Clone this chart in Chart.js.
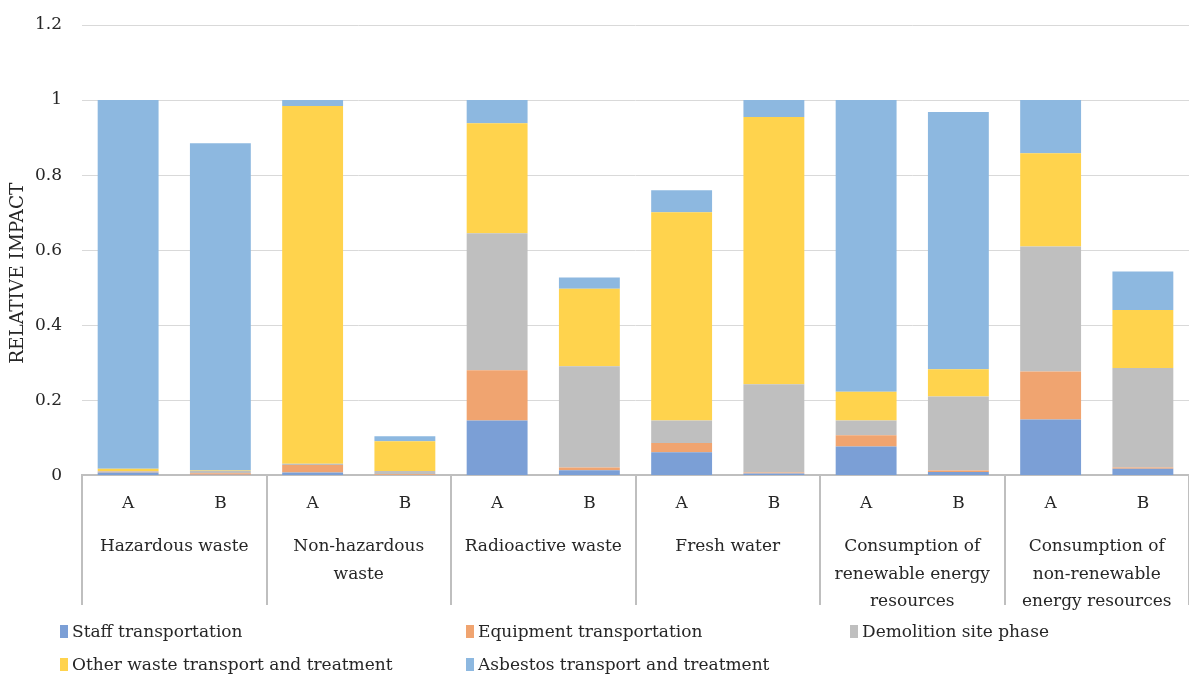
<!DOCTYPE html>
<html>
<head>
<meta charset="utf-8">
<script src="https://cdn.jsdelivr.net/npm/chart.js@4.4.1/dist/chart.umd.min.js"></script>
<style>
  html, body { margin: 0; padding: 0; background: #fff; }
  #wrap { position: relative; width: 1189px; height: 675px; overflow: hidden; }
  #legend { position: absolute; left: 0; top: 0; width: 1189px; height: 675px; pointer-events: none;
            font-family: "DejaVu Serif", serif; font-size: 17px; color: #262626; }
  .item { position: absolute; white-space: nowrap; line-height: 20px; }
  .item i { display: inline-block; width: 8px; height: 13px; margin-right: 4px; vertical-align: -1px; }
</style>
</head>
<body>
<div id="wrap">
  <canvas id="chart" width="1189" height="675"></canvas>
  <div id="legend"></div>
</div>
<script>
// Bars: each impact category has scenario A and B
const barLabels = ["A", "B", "A", "B", "A", "B", "A", "B", "A", "B", "A", "B"];
const groupLabels = [
  ["Hazardous waste"],
  ["Non-hazardous", "waste"],
  ["Radioactive waste"],
  ["Fresh water"],
  ["Consumption of", "renewable energy", "resources"],
  ["Consumption of", "non-renewable", "energy resources"]
];
const yTicks = [0, 0.2, 0.4, 0.6, 0.8, 1, 1.2];
const yTickText = ["0", "0.2", "0.4", "0.6", "0.8", "1", "1.2"];
const yTitle = "RELATIVE IMPACT";

// Stacked contributions
const staffTransport     = [0.008, 0.002, 0.008, 0.001, 0.146, 0.014, 0.062, 0.005, 0.077, 0.009, 0.149, 0.018];
const equipmentTransport = [0.002, 0.004, 0.020, 0.002, 0.134, 0.007, 0.024, 0.003, 0.030, 0.004, 0.128, 0.003];
const demolitionSite     = [0.002, 0.006, 0.003, 0.009, 0.365, 0.270, 0.060, 0.235, 0.039, 0.197, 0.333, 0.265];
const otherWaste         = [0.006, 0.001, 0.953, 0.079, 0.293, 0.206, 0.555, 0.712, 0.077, 0.073, 0.248, 0.155];
const asbestos           = [0.982, 0.872, 0.016, 0.013, 0.062, 0.030, 0.059, 0.045, 0.777, 0.685, 0.142, 0.102];

const seriesNames = [
  "Staff transportation",
  "Equipment transportation",
  "Demolition site phase",
  "Other waste transport and treatment",
  "Asbestos transport and treatment"
];
const seriesColors = ["#7b9fd6", "#f0a470", "#bfbfbf", "#ffd34d", "#8db8e0"];
const seriesData = [staffTransport, equipmentTransport, demolitionSite, otherWaste, asbestos];

const FONT = "'DejaVu Serif', serif";
const TEXT = "#262626";

// Draws the vertical separators between impact categories below the axis,
// plus the rotated y axis title (sits a bit lower than the plot centre in the original)
const groupSeparators = {
  id: "groupSeparators",
  afterDraw(chart) {
    const x = chart.scales.x;
    const ctx = chart.ctx;
    const half = (x.getPixelForValue(1) - x.getPixelForValue(0)) / 2;
    ctx.save();
    ctx.strokeStyle = "#bfbfbf";
    ctx.lineWidth = 2;
    for (let i = 0; i <= barLabels.length; i += 2) {
      let px = i < barLabels.length ? x.getPixelForValue(i) - half : x.getPixelForValue(i - 1) + half;
      px = Math.round(px);
      ctx.beginPath();
      ctx.moveTo(px, x.top);
      ctx.lineTo(px, 605);
      ctx.stroke();
    }
    ctx.translate(18, (chart.chartArea.top + chart.chartArea.bottom) / 2 + 23);
    ctx.rotate(-Math.PI / 2);
    ctx.fillStyle = TEXT;
    ctx.font = "18.5px " + FONT;
    ctx.textAlign = "center";
    ctx.textBaseline = "middle";
    ctx.fillText(yTitle, 0, 0);
    ctx.restore();
  }
};

const datasets = seriesNames.map((name, i) => ({
  label: name,
  data: seriesData[i],
  backgroundColor: seriesColors[i],
  borderWidth: 0,
  barPercentage: 0.66,
  categoryPercentage: 1.0,
  xAxisID: "x",
  yAxisID: "y"
}));

new Chart(document.getElementById("chart"), {
  type: "bar",
  data: { labels: barLabels, datasets: datasets },
  plugins: [groupSeparators],
  options: {
    responsive: false,
    animation: false,
    layout: { padding: { top: 25, right: 0, bottom: 54, left: 0 } },
    plugins: { legend: { display: false }, tooltip: { enabled: false } },
    scales: {
      x: {
        stacked: true,
        offset: true,
        grid: { display: false, drawTicks: false },
        border: { display: true, color: "#bfbfbf", width: 2 },
        ticks: { color: TEXT, font: { family: FONT, size: 17 }, padding: 18, maxRotation: 0 },
        afterFit: s => { s.height = 52; }
      },
      x2: {
        type: "category",
        labels: groupLabels,
        position: "bottom",
        offset: true,
        grid: { display: false, drawTicks: false },
        border: { display: false },
        ticks: { color: TEXT, font: { family: FONT, size: 17, lineHeight: 1.6 }, padding: 6, maxRotation: 0, autoSkip: false }
      },
      y: {
        stacked: true,
        min: 0,
        max: 1.2,
        afterBuildTicks: s => { s.ticks = yTicks.map(v => ({ value: v })); },
        grid: { color: "#d9d9d9", lineWidth: 1, drawTicks: false },
        border: { display: false },
        ticks: { color: TEXT, font: { family: FONT, size: 17 }, padding: 20,
                 callback: (v, i) => yTickText[i] },
        afterFit: s => { s.width = 82; s.paddingTop = 0; }
      }
    }
  }
});

// HTML legend in the reference's column layout
const legendPos = [[60, 621], [466, 621], [850, 621], [60, 654], [466, 654]];
const legend = document.getElementById("legend");
seriesNames.forEach((name, i) => {
  const d = document.createElement("div");
  d.className = "item";
  d.style.left = legendPos[i][0] + "px";
  d.style.top = legendPos[i][1] + "px";
  d.innerHTML = '<i style="background:' + seriesColors[i] + '"></i>' + name;
  legend.appendChild(d);
});
</script>
</body>
</html>
